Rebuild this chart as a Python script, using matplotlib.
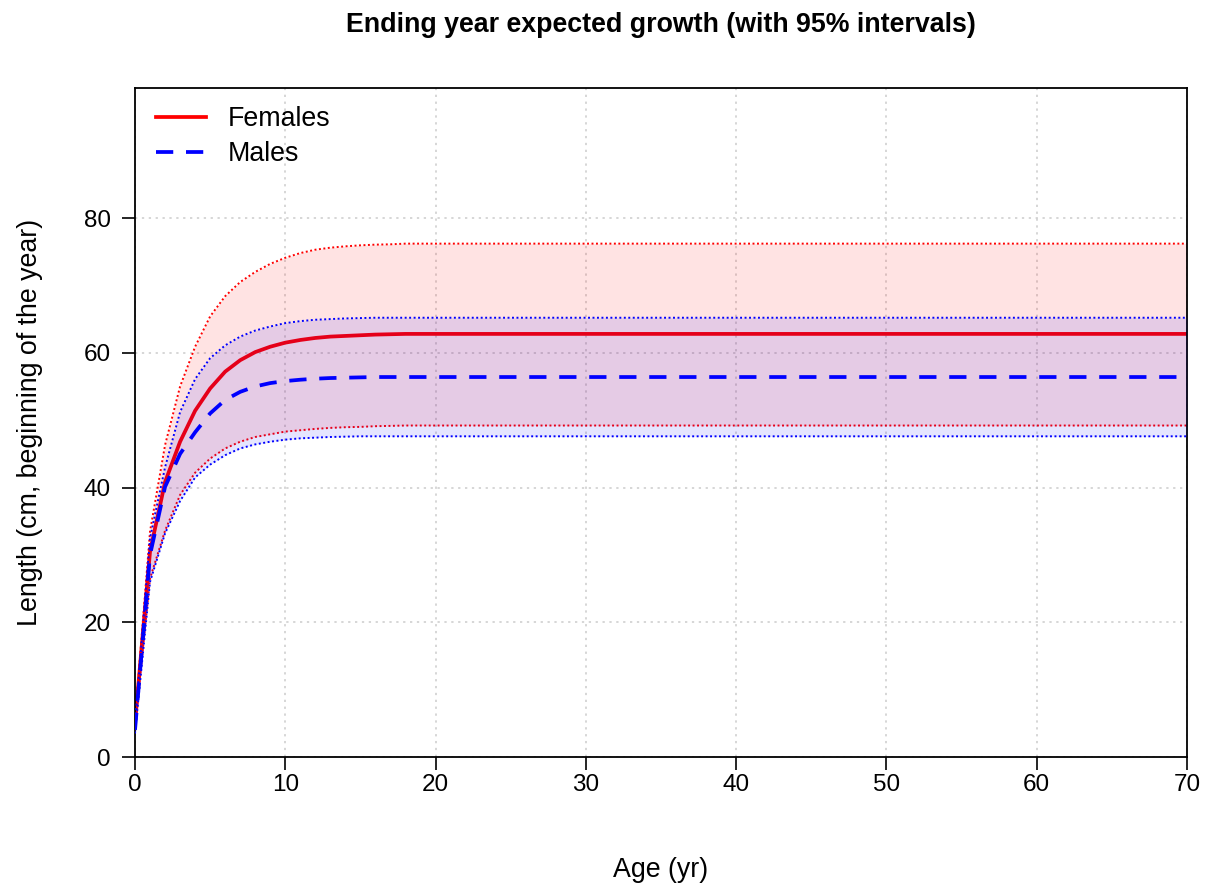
import matplotlib
matplotlib.use("Agg")
import matplotlib.pyplot as plt

plt.rcParams['font.family'] = ['Liberation Sans', 'DejaVu Sans']

ages = list(range(0, 71))

f_mean_head = [5.0, 30.5, 40.8, 46.8, 51.4, 54.7, 57.2, 58.9, 60.1, 60.9, 61.5,
               61.9, 62.2, 62.4, 62.5, 62.6, 62.7, 62.75]
f_upper_head = [5.5, 33.5, 46.3, 55.0, 60.9, 65.4, 68.4, 70.5, 72.0, 73.2, 74.1,
                74.8, 75.3, 75.6, 75.8, 75.95, 76.05, 76.1]
f_lower_head = [4.5, 26.5, 33.6, 38.9, 42.2, 44.3, 45.8, 46.8, 47.5, 47.9, 48.3,
                48.5, 48.7, 48.85, 48.95, 49.0, 49.1, 49.15]
m_mean_head = [4.0, 30.0, 40.1, 45.0, 48.2, 51.0, 53.0, 54.2, 55.0, 55.5, 55.8,
               56.0, 56.15, 56.25, 56.3, 56.35, 56.4, 56.4]
m_upper_head = [5.0, 32.5, 43.0, 51.2, 56.1, 59.2, 61.1, 62.4, 63.3, 63.9, 64.4,
                64.7, 64.9, 65.0, 65.1, 65.15, 65.2, 65.2]
m_lower_head = [3.5, 26.0, 33.2, 38.0, 41.5, 43.4, 44.8, 45.8, 46.4, 46.8, 47.1,
                47.3, 47.4, 47.5, 47.55, 47.6, 47.6, 47.6]

f_mean_tail = 62.8
f_upper_tail = 76.2
f_lower_tail = 49.2
m_mean_tail = 56.4
m_upper_tail = 65.2
m_lower_tail = 47.6

def full(head, tail):
    return head + [tail] * (len(ages) - len(head))

f_mean = full(f_mean_head, f_mean_tail)
f_upper = full(f_upper_head, f_upper_tail)
f_lower = full(f_lower_head, f_lower_tail)
m_mean = full(m_mean_head, m_mean_tail)
m_upper = full(m_upper_head, m_upper_tail)
m_lower = full(m_lower_head, m_lower_tail)

W, H = 1207, 888
fig = plt.figure(figsize=(W / 100, H / 100), dpi=100)
ax = fig.add_axes([135 / W, 1 - 757 / H, (1187 - 135) / W, (757 - 88) / H])

ax.set_xlim(0, 70)
ax.set_ylim(0, 99.3)

grid_style = dict(color='#cccccc', lw=1.1, ls=(0, (1.5, 3)), zorder=0)
for xv in range(0, 71, 10):
    ax.axvline(xv, **grid_style)
for yv in range(0, 81, 20):
    ax.axhline(yv, **grid_style)

dot = (0, (1, 1.3))
ax.fill_between(ages, f_lower, f_upper, color=(1, 0, 0, 0.11), lw=0, zorder=1)
ax.plot(ages, f_upper, color='red', lw=1.4, ls=dot, zorder=2)
ax.plot(ages, f_lower, color='red', lw=1.4, ls=dot, zorder=2)
l1, = ax.plot(ages, f_mean, color='red', lw=2.7, zorder=2, label='Females')

ax.fill_between(ages, m_lower, m_upper, color=(0, 0, 1, 0.1), lw=0, zorder=3)
ax.plot(ages, m_upper, color='blue', lw=1.4, ls=dot, zorder=4)
ax.plot(ages, m_lower, color='blue', lw=1.4, ls=dot, zorder=4)
l2, = ax.plot(ages, m_mean, color='blue', lw=2.7, ls=(0, (4.6, 3.4)), zorder=4,
              label='Males')

ax.set_xticks(range(0, 71, 10))
ax.set_yticks(range(0, 81, 20))
ax.tick_params(axis='both', direction='out', length=9.5, width=1.2, labelsize=17.5)
ax.tick_params(axis='x', pad=3)
ax.tick_params(axis='y', pad=8)
for s in ax.spines.values():
    s.set_linewidth(1.3)

fig.text(661 / W, 1 - 870 / H, 'Age (yr)', ha='center', va='center', fontsize=19.3)
fig.text(30 / W, 1 - 422 / H, 'Length (cm, beginning of the year)', ha='center',
         va='center', rotation=90, fontsize=19.3)
fig.text(661 / W, 1 - 25 / H, 'Ending year expected growth (with 95% intervals)',
         ha='center', va='center', fontsize=19.3, fontweight='bold')

leg = fig.legend(handles=[l1, l2], loc='upper left', frameon=False, fontsize=19.3,
                 handlelength=1.87, handletextpad=0.82, borderpad=0, borderaxespad=0,
                 labelspacing=0.35, bbox_to_anchor=(156 / W, 1 - 106 / H))

fig.savefig('out.png', dpi=100)
